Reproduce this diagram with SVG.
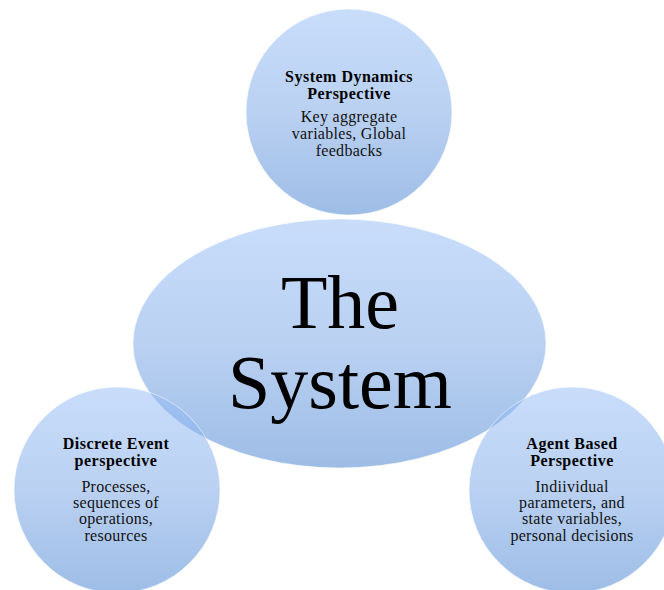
<svg xmlns="http://www.w3.org/2000/svg" width="664" height="590" viewBox="0 0 664 590">
<style>
.shape{fill:url(#g);fill-opacity:0.52;stroke:#ffffff;stroke-opacity:0.5;stroke-width:1}
.h{font-family:"Liberation Serif","Times New Roman",serif;font-size:16px;font-weight:bold;fill:#000;text-anchor:middle;letter-spacing:0.5px}
.t{font-family:"Liberation Serif","Times New Roman",serif;font-size:16px;fill:#111;text-anchor:middle;letter-spacing:0.3px}
.big{font-family:"Liberation Serif","Times New Roman",serif;font-size:76px;fill:#000;text-anchor:middle}
</style>
<defs>
<linearGradient id="g" x1="0" y1="0" x2="0" y2="1">
<stop offset="0" stop-color="#97BEF7"/>
<stop offset="0.5" stop-color="#7AA6E6"/>
<stop offset="1" stop-color="#4480CF"/>
</linearGradient>
</defs>
<rect width="664" height="590" fill="#ffffff"/>
<g id="connectors"></g>
<g id="center">
<ellipse class="shape" cx="339.5" cy="343.5" rx="206.5" ry="124.5"/>
<text class="big" x="340" y="328">The</text>
<text class="big" x="340" y="408">System</text>
</g>
<g id="system-dynamics">
<circle class="shape" cx="349" cy="112" r="103"/>
<text class="h" x="349" y="82">System Dynamics</text>
<text class="h" x="349" y="99">Perspective</text>
<text class="t" x="349" y="122">Key aggregate</text>
<text class="t" x="349" y="139">variables, Global</text>
<text class="t" x="349" y="156">feedbacks</text>
</g>
<g id="discrete-event">
<circle class="shape" cx="117" cy="490" r="103"/>
<text class="h" x="116" y="449">Discrete Event</text>
<text class="h" x="116" y="466">perspective</text>
<text class="t" x="116" y="492">Processes,</text>
<text class="t" x="116" y="508">sequences of</text>
<text class="t" x="116" y="524">operations,</text>
<text class="t" x="116" y="541">resources</text>
</g>
<g id="agent-based">
<circle class="shape" cx="572" cy="490" r="103"/>
<text class="h" x="572" y="449">Agent Based</text>
<text class="h" x="572" y="466">Perspective</text>
<text class="t" x="572" y="492">Indiividual</text>
<text class="t" x="572" y="508">parameters, and</text>
<text class="t" x="572" y="524">state variables,</text>
<text class="t" x="572" y="541">personal decisions</text>
</g>
</svg>
